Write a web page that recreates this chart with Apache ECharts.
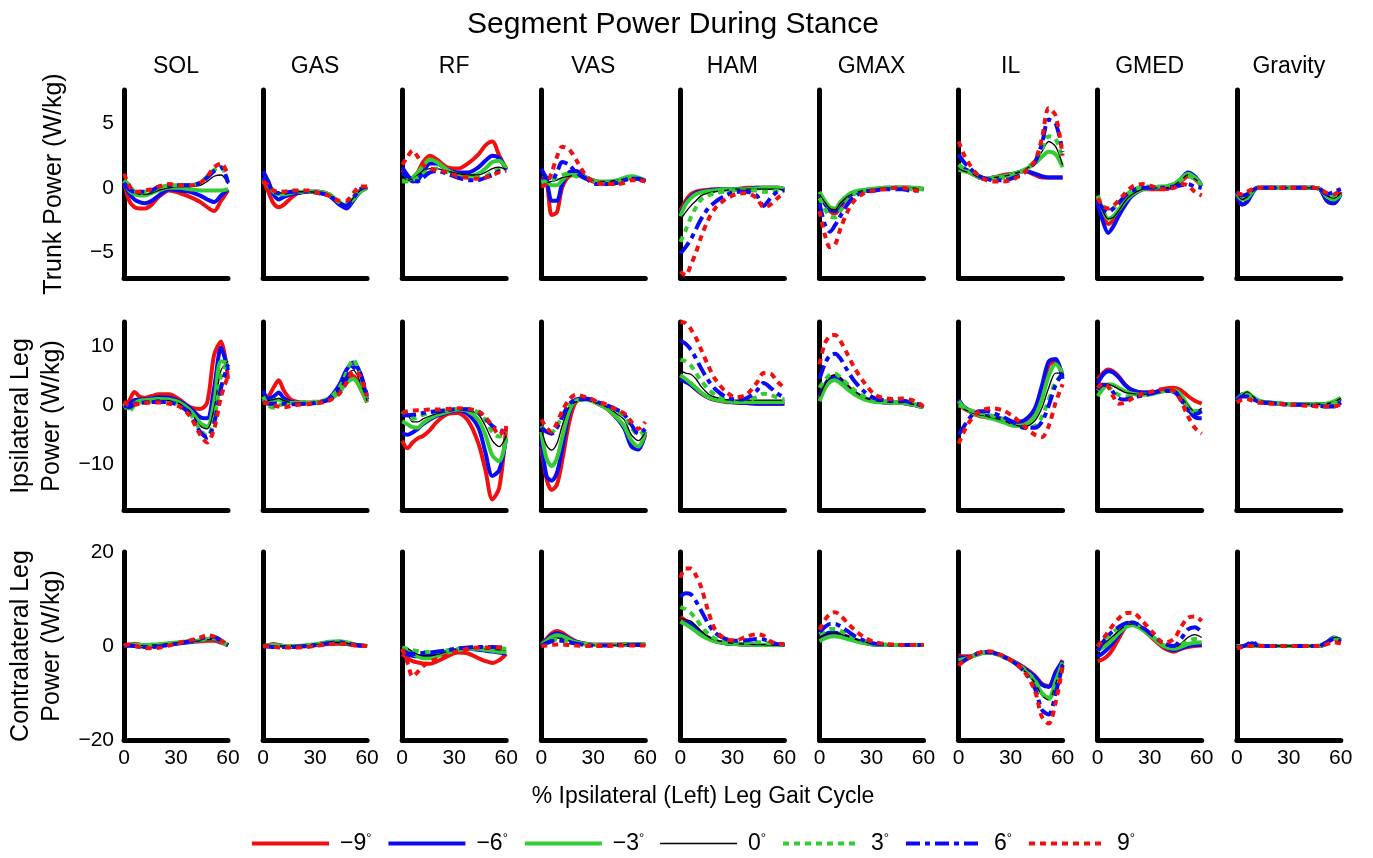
<!DOCTYPE html>
<html>
<head>
<meta charset="utf-8">
<script src="https://cdn.jsdelivr.net/npm/echarts@6/dist/echarts.min.js"></script>
<style>
  html, body { margin: 0; background: #fff; }
  #chart { width: 1373px; height: 858px; }
</style>
</head>
<body>
<div id="chart"></div>
<script>
// sample points along stance (% of gait cycle)
const gaitPct = [0, 3, 6, 9, 12, 16, 20, 26, 32, 38, 44, 48, 52, 56, 60];
const muscles = ['SOL', 'GAS', 'RF', 'VAS', 'HAM', 'GMAX', 'IL', 'GMED', 'Gravity'];
const angles = ['\u22129', '\u22126', '\u22123', '0', '3', '6', '9'];
const rowTitles = ['Trunk Power (W/kg)', 'Ipsilateral Leg\nPower (W/kg)', 'Contralateral Leg\nPower (W/kg)'];
const yTicks = [[-5, 0, 5], [-10, 0, 10], [-20, 0, 20]];
const xTicks = [0, 30, 60];

// each panel: one row per angle, order -9, -6, -3, 0, 3, 6, 9
const trunkSOL = [
  [0.5, -1.0, -1.5, -1.6, -1.6, -1.3, -0.7, -0.2, -0.4, -0.7, -1.1, -1.5, -1.8, -1.0, -0.2],
  [0.3, -0.4, -0.9, -1.1, -1.2, -1.0, -0.6, -0.1, -0.2, -0.3, -0.6, -0.9, -1.1, -0.6, -0.1],
  [0.5, -0.2, -0.5, -0.6, -0.6, -0.4, -0.2, 0.0, 0.0, -0.1, -0.2, -0.2, -0.2, -0.2, -0.1],
  [0.8, 0.3, -0.3, -0.5, -0.5, -0.4, -0.2, 0.0, 0.1, 0.1, 0.2, 0.5, 0.9, 1.0, 0.3],
  [0.6, 0.2, -0.3, -0.4, -0.3, -0.2, 0.0, 0.2, 0.2, 0.2, 0.4, 0.9, 1.4, 1.6, 0.4],
  [0.4, -0.1, -0.3, -0.3, -0.3, -0.2, 0.1, 0.2, 0.2, 0.2, 0.4, 0.8, 1.3, 1.6, 0.4],
  [1.1, 0.2, -0.3, -0.3, -0.2, -0.1, 0.1, 0.3, 0.2, 0.2, 0.4, 0.9, 1.6, 1.9, 1.0]
];
const trunkGAS = [
  [0.6, -0.3, -1.2, -1.5, -1.3, -0.8, -0.4, -0.3, -0.3, -0.5, -1.2, -1.5, -0.9, -0.2, 0.1],
  [1.3, 0.5, -0.5, -0.9, -0.7, -0.5, -0.4, -0.3, -0.3, -0.6, -1.3, -1.6, -1.0, -0.3, 0.0],
  [0.8, 0.2, -0.3, -0.5, -0.5, -0.4, -0.3, -0.3, -0.3, -0.5, -1.1, -1.4, -0.9, -0.3, 0.0],
  [0.6, 0.3, -0.2, -0.4, -0.4, -0.4, -0.3, -0.3, -0.4, -0.6, -1.1, -1.3, -0.8, -0.2, 0.0],
  [0.5, 0.2, -0.2, -0.3, -0.3, -0.3, -0.3, -0.3, -0.4, -0.6, -1.1, -1.2, -0.7, -0.1, 0.1],
  [0.8, 0.3, -0.3, -0.4, -0.4, -0.3, -0.3, -0.3, -0.4, -0.6, -1.2, -1.4, -0.8, -0.1, 0.1],
  [0.5, 0.2, -0.2, -0.3, -0.3, -0.2, -0.2, -0.2, -0.4, -0.6, -1.0, -1.0, -0.4, 0.1, 0.1]
];
const trunkRF = [
  [1.4, 0.9, 0.6, 1.2, 2.0, 2.5, 2.2, 1.6, 1.5, 1.9, 2.6, 3.3, 3.6, 2.5, 1.5],
  [1.2, 0.8, 0.5, 0.6, 1.2, 1.9, 1.9, 1.4, 1.2, 1.2, 1.6, 2.1, 2.5, 2.3, 1.4],
  [0.6, 0.6, 0.8, 1.2, 1.7, 2.2, 2.0, 1.4, 1.0, 0.9, 1.1, 1.5, 2.0, 2.1, 1.5],
  [0.9, 0.6, 0.7, 1.0, 1.3, 1.5, 1.5, 1.3, 1.1, 1.0, 1.0, 1.2, 1.5, 1.6, 1.4],
  [0.5, 0.5, 0.6, 0.8, 1.1, 1.4, 1.5, 1.2, 0.9, 0.8, 0.8, 0.9, 1.2, 1.4, 1.4],
  [1.6, 1.0, 0.6, 0.5, 0.8, 1.2, 1.3, 1.1, 0.8, 0.6, 0.6, 0.8, 1.0, 1.3, 1.4],
  [1.8, 2.4, 2.9, 2.4, 1.8, 1.5, 1.4, 1.2, 0.9, 0.8, 0.7, 0.8, 1.0, 1.2, 1.3]
];
const trunkVAS = [
  [0.8, 0.5, -2.1, -1.9, 0.0, 0.9, 1.0, 0.7, 0.4, 0.3, 0.4, 0.6, 0.8, 0.7, 0.5],
  [0.7, 0.5, -1.0, -1.0, 0.3, 1.2, 1.3, 0.8, 0.5, 0.4, 0.5, 0.7, 0.8, 0.7, 0.5],
  [0.5, 0.5, 0.2, 0.2, 0.6, 1.0, 1.0, 0.8, 0.5, 0.5, 0.6, 0.8, 0.9, 0.8, 0.6],
  [0.3, 0.4, 0.5, 0.6, 0.8, 0.9, 1.0, 0.8, 0.5, 0.5, 0.6, 0.7, 0.8, 0.7, 0.5],
  [0.4, 0.5, 0.6, 0.8, 1.0, 1.1, 0.9, 0.7, 0.5, 0.4, 0.5, 0.6, 0.8, 0.7, 0.6],
  [1.5, 0.8, 0.6, 1.2, 2.0, 1.8, 1.2, 0.7, 0.3, 0.3, 0.4, 0.6, 0.7, 0.7, 0.5],
  [0.1, 0.3, 1.2, 2.4, 3.2, 3.0, 2.2, 0.9, 0.4, 0.3, 0.3, 0.4, 0.6, 0.6, 0.5]
];
const trunkHAM = [
  [-1.8, -1.0, -0.5, -0.3, -0.2, -0.15, -0.1, -0.1, -0.1, 0, 0, 0, 0, 0, -0.1],
  [-2.0, -1.2, -0.7, -0.4, -0.3, -0.2, -0.15, -0.1, -0.1, -0.1, 0, 0, 0, 0, -0.1],
  [-2.2, -1.3, -0.8, -0.5, -0.35, -0.25, -0.2, -0.1, -0.1, -0.1, -0.05, 0, 0, 0, -0.1],
  [-2.5, -1.9, -1.4, -1.0, -0.6, -0.4, -0.3, -0.2, -0.1, -0.1, -0.1, -0.1, -0.1, -0.1, -0.2],
  [-4.2, -3.3, -2.3, -1.5, -0.9, -0.6, -0.4, -0.3, -0.2, -0.2, -0.2, -0.3, -0.3, -0.2, -0.3],
  [-5.1, -4.6, -4.0, -3.2, -2.4, -1.6, -1.1, -0.6, -0.3, -0.3, -0.6, -1.4, -0.8, -0.3, -0.2],
  [-6.5, -6.8, -6.0, -5.0, -3.8, -2.5, -1.6, -0.9, -0.5, -0.4, -0.8, -1.5, -1.3, -0.8, -0.4]
];
const trunkGMAX = [
  [-0.6, -1.2, -1.8, -2.0, -1.5, -0.8, -0.4, -0.2, -0.1, -0.05, 0, 0, 0, -0.05, -0.1],
  [-0.5, -1.2, -1.7, -1.8, -1.3, -0.7, -0.4, -0.2, -0.1, 0, 0, 0, 0, -0.05, -0.1],
  [-0.3, -1.0, -1.5, -1.6, -1.1, -0.6, -0.3, -0.15, -0.05, 0, 0, 0, 0, 0, -0.05],
  [-0.5, -1.1, -1.6, -1.7, -1.2, -0.7, -0.4, -0.2, -0.1, 0, 0, 0, 0, -0.05, -0.1],
  [-0.8, -1.6, -2.2, -2.3, -1.8, -1.0, -0.5, -0.2, -0.1, 0, 0, 0, -0.1, -0.1, -0.1],
  [-1.2, -2.8, -3.4, -2.9, -2.2, -1.3, -0.7, -0.3, -0.2, -0.1, -0.1, -0.1, -0.2, -0.2, -0.2],
  [-1.8, -3.6, -4.6, -4.4, -3.2, -1.9, -1.0, -0.4, -0.2, -0.1, 0, 0, -0.1, -0.2, -0.2]
];
const trunkIL = [
  [1.5, 1.4, 1.2, 1.0, 0.8, 0.7, 0.8, 1.0, 1.1, 1.3, 1.0, 0.8, 0.8, 0.8, 0.8],
  [1.7, 1.5, 1.3, 1.1, 0.8, 0.7, 0.8, 0.9, 1.1, 1.3, 1.1, 0.9, 0.8, 0.8, 0.8],
  [1.4, 1.3, 1.2, 1.0, 0.8, 0.7, 0.8, 0.9, 1.1, 1.4, 1.9, 2.4, 2.8, 2.6, 1.6],
  [1.5, 1.3, 1.2, 1.0, 0.8, 0.7, 0.8, 0.9, 1.1, 1.4, 2.0, 2.8, 3.6, 3.2, 1.8],
  [1.8, 1.5, 1.3, 1.1, 0.9, 0.7, 0.7, 0.8, 1.0, 1.4, 2.1, 3.0, 4.0, 3.8, 2.2],
  [2.6, 2.0, 1.6, 1.2, 0.9, 0.7, 0.6, 0.6, 0.8, 1.2, 2.0, 3.4, 5.3, 5.0, 2.8],
  [3.6, 2.6, 1.9, 1.3, 0.9, 0.6, 0.5, 0.5, 0.7, 1.2, 2.1, 3.8, 6.2, 5.6, 2.5]
];
const trunkGMED = [
  [-1.0, -2.0, -2.8, -2.5, -1.9, -1.1, -0.5, -0.1, -0.1, -0.1, 0.1, 0.5, 0.9, 0.7, 0.1],
  [-1.2, -2.6, -3.5, -3.0, -2.2, -1.3, -0.6, -0.1, 0.0, 0.0, 0.2, 0.7, 1.2, 0.9, 0.2],
  [-0.7, -1.7, -2.4, -2.2, -1.7, -1.0, -0.5, -0.1, 0.0, 0.1, 0.3, 0.7, 1.1, 0.8, 0.2],
  [-0.8, -1.8, -2.4, -2.3, -1.8, -1.0, -0.5, -0.1, 0.0, 0.0, 0.2, 0.6, 1.0, 0.7, 0.2],
  [-0.6, -1.4, -1.8, -1.6, -1.2, -0.6, -0.2, 0.1, 0.1, 0.1, 0.3, 0.6, 0.9, 0.7, 0.2],
  [-1.0, -1.6, -1.9, -1.6, -1.2, -0.6, -0.2, 0.0, 0.0, 0.0, 0.1, 0.2, 0.3, 0.1, 0.0],
  [-0.8, -1.4, -1.6, -1.4, -1.0, -0.4, 0.1, 0.3, 0.1, -0.1, 0.0, 0.3, 0.2, -0.3, -0.6]
];
const trunkGravity = [
  [-0.5, -1.3, -1.0, -0.3, 0, 0, 0, 0, 0, 0, 0, -0.1, -1.0, -1.2, -0.3],
  [-0.5, -1.3, -1.1, -0.4, 0, 0, 0, 0, 0, 0, 0, -0.1, -1.0, -1.2, -0.5],
  [-0.4, -0.9, -0.8, -0.3, 0, 0, 0, 0, 0, 0, 0, -0.1, -0.7, -0.9, -0.5],
  [-0.4, -0.9, -0.7, -0.3, 0, 0, 0, 0, 0, 0, 0, -0.1, -0.6, -0.8, -0.4],
  [-0.3, -0.6, -0.5, -0.2, 0, 0, 0, 0, 0, 0, 0, -0.1, -0.5, -0.6, -0.3],
  [-0.3, -0.6, -0.5, -0.2, 0, 0, 0, 0, 0, 0, 0, -0.1, -0.5, -0.3, -0.1],
  [-0.4, -0.5, -0.3, -0.1, 0, 0, 0, 0, 0, 0, 0, -0.1, -0.4, -0.5, -0.1]
];

const ipsiSOL = [
  [0, 0.8, 2.3, 1.5, 1.3, 1.6, 1.9, 1.9, 1.0, -0.3, -0.6, 0.5, 8.6, 10.9, 4.5],
  [0, 0.2, 0.9, 1.0, 1.0, 1.2, 1.4, 1.3, 0.7, -0.4, -2.0, -2.2, 3.0, 9.8, 6.0],
  [0, -0.5, 0.3, 0.8, 0.9, 1.0, 1.1, 1.0, 0.5, -0.8, -3.0, -3.6, 0.5, 7.5, 7.2],
  [0, -0.4, 0.2, 0.6, 0.7, 0.8, 0.9, 0.8, 0.3, -1.0, -3.5, -4.0, -0.5, 6.0, 7.5],
  [0.3, -1.0, 0.0, 0.5, 0.6, 0.7, 0.7, 0.6, 0.1, -1.3, -4.2, -5.2, -2.5, 5.0, 7.5],
  [0, -0.3, 0.2, 0.4, 0.5, 0.6, 0.6, 0.5, 0.0, -1.5, -4.5, -5.5, -3.0, 3.0, 7.0],
  [0.7, 0.0, 0.1, 0.3, 0.4, 0.5, 0.5, 0.3, -0.2, -1.8, -5.0, -6.3, -4.0, 1.5, 5.0]
];
const ipsiGAS = [
  [1.0, 1.5, 3.0, 4.3, 2.5, 1.0, 0.6, 0.5, 0.6, 1.0, 2.5, 4.0, 5.0, 3.0, 0.5],
  [2.5, 1.2, 1.5, 2.2, 1.2, 0.6, 0.4, 0.4, 0.5, 1.2, 3.5, 6.0, 7.3, 5.5, 1.0],
  [1.0, 0.5, 0.8, 1.0, 0.6, 0.4, 0.4, 0.4, 0.5, 1.0, 2.2, 3.8, 4.5, 3.0, 0.6],
  [1.3, 0.8, 1.0, 1.2, 0.8, 0.5, 0.4, 0.4, 0.5, 1.2, 3.0, 5.0, 6.0, 4.0, 0.8],
  [1.5, 0.0, -0.4, 0.0, 0.2, 0.4, 0.5, 0.6, 0.7, 1.2, 3.0, 5.5, 7.8, 5.0, 1.0],
  [0.6, 0.3, 0.3, 0.4, 0.3, 0.2, 0.2, 0.3, 0.5, 1.0, 2.5, 4.5, 6.5, 5.5, 1.5],
  [0.5, 0.3, 0.0, -0.2, -0.3, -0.1, 0.1, 0.2, 0.4, 0.8, 2.0, 3.8, 5.8, 5.0, 1.5]
];
const ipsiRF = [
  [-6.0, -7.3, -6.3, -5.6, -5.2, -4.2, -2.8, -1.5, -1.3, -2.6, -6.5, -11.0, -16.0, -14.0, -3.5],
  [-4.7, -5.0, -4.6, -4.0, -3.2, -2.4, -1.8, -1.2, -0.8, -1.5, -3.8, -8.0, -12.0, -11.0, -5.5],
  [-2.7, -3.2, -3.7, -3.8, -3.0, -2.2, -1.6, -1.1, -0.7, -1.0, -2.5, -5.0, -8.5, -9.5, -5.5],
  [-0.7, -1.3, -2.8, -2.8, -2.3, -1.8, -1.4, -1.0, -0.7, -0.8, -1.6, -3.5, -6.0, -7.0, -5.2],
  [-1.0, -1.8, -2.3, -2.0, -1.6, -1.2, -1.0, -0.8, -0.6, -0.6, -1.2, -2.5, -4.5, -5.3, -4.5],
  [-1.5, -1.7, -1.6, -1.5, -1.3, -1.1, -1.0, -0.8, -0.6, -0.7, -1.2, -2.2, -3.5, -4.2, -4.5],
  [-1.3, -1.0, -0.9, -0.8, -0.8, -0.7, -0.7, -0.6, -0.5, -0.6, -1.0, -2.0, -3.5, -5.0, -3.5]
];
const ipsiVAS = [
  [-7.0, -12.5, -14.4, -13.5, -9.5, -3.0, 0.6, 1.1, 0.4, -0.6, -2.3, -3.8, -6.5, -7.3, -5.0],
  [-5.5, -12.0, -12.8, -11.5, -7.5, -1.5, 1.0, 1.2, 0.5, -0.5, -2.3, -4.0, -7.0, -7.5, -4.5],
  [-4.5, -9.0, -10.3, -9.0, -5.5, -1.0, 0.8, 1.0, 0.4, -0.6, -2.2, -3.6, -6.0, -7.0, -4.5],
  [-4.0, -6.8, -7.6, -6.5, -3.5, -0.3, 0.6, 0.9, 0.4, -0.3, -1.5, -2.5, -5.0, -6.0, -4.5],
  [-3.5, -4.5, -4.6, -3.5, -1.8, 0.0, 0.8, 1.0, 0.5, -0.1, -1.0, -2.0, -3.8, -5.0, -4.2],
  [-3.8, -4.5, -4.8, -3.8, -2.0, 0.2, 1.0, 1.1, 0.6, 0.0, -0.8, -1.6, -3.3, -4.8, -4.0],
  [-2.4, -3.8, -4.5, -3.0, -1.0, 1.0, 1.8, 1.4, 0.7, 0.1, -0.8, -1.4, -2.8, -4.0, -2.8]
];
const ipsiHAM = [
  [5.0, 4.3, 3.5, 2.7, 2.0, 1.3, 0.9, 0.6, 0.5, 0.4, 0.3, 0.3, 0.3, 0.3, 0.3],
  [4.5, 4.0, 3.5, 2.8, 2.1, 1.4, 1.0, 0.7, 0.5, 0.4, 0.3, 0.3, 0.3, 0.3, 0.3],
  [5.2, 4.5, 3.8, 3.0, 2.2, 1.4, 1.0, 0.7, 0.6, 0.6, 0.6, 0.6, 0.6, 0.6, 0.6],
  [6.0, 5.5, 5.3, 4.5, 3.2, 2.0, 1.4, 1.0, 0.9, 0.9, 0.9, 0.9, 0.9, 0.9, 0.9],
  [7.8, 7.5, 6.8, 5.5, 4.2, 2.8, 1.8, 1.0, 0.7, 0.8, 1.4, 2.0, 1.8, 1.3, 1.0],
  [11.0, 10.5, 9.5, 8.0, 6.3, 4.3, 2.8, 1.5, 1.0, 1.2, 2.5, 3.8, 3.0, 2.0, 1.3],
  [14.2, 14.0, 13.0, 11.5, 9.5, 6.8, 4.5, 2.4, 1.4, 1.8, 3.8, 5.5, 5.4, 4.0, 3.0]
];
const ipsiGMAX = [
  [1.3, 3.3, 4.6, 5.0, 4.5, 3.3, 2.2, 1.2, 0.7, 0.5, 0.4, 0.4, 0.2, 0.0, -0.3],
  [1.5, 3.4, 4.6, 4.9, 4.4, 3.2, 2.2, 1.2, 0.7, 0.5, 0.4, 0.4, 0.2, 0.0, -0.3],
  [0.7, 2.8, 4.0, 4.3, 3.8, 2.8, 1.9, 1.0, 0.6, 0.5, 0.4, 0.4, 0.2, 0.0, -0.3],
  [1.5, 3.5, 4.8, 5.2, 4.7, 3.5, 2.4, 1.3, 0.8, 0.6, 0.5, 0.5, 0.3, 0.1, -0.2],
  [3.0, 4.3, 5.2, 5.4, 4.8, 3.7, 2.6, 1.5, 0.9, 0.7, 0.6, 0.6, 0.4, 0.2, -0.2],
  [4.5, 7.0, 8.5, 8.8, 8.0, 6.0, 4.2, 2.3, 1.2, 0.9, 0.8, 0.8, 0.6, 0.3, -0.1],
  [7.0, 10.5, 11.8, 12.0, 11.0, 8.8, 6.5, 3.8, 1.8, 1.2, 1.1, 1.2, 1.0, 0.6, -0.2]
];
const ipsiIL = [
  [0.5, -0.5, -1.0, -1.5, -1.8, -2.0, -2.2, -2.6, -3.0, -2.8, -1.0, 2.5, 6.8, 7.5, 5.0],
  [1.0, -0.2, -0.8, -1.2, -1.5, -1.8, -2.0, -2.3, -2.8, -2.5, -0.5, 3.3, 7.5, 7.9, 4.5],
  [0.7, -0.3, -0.9, -1.4, -1.7, -2.0, -2.3, -2.9, -3.5, -3.3, -1.8, 1.0, 5.0, 7.0, 5.5],
  [0.3, -0.6, -1.0, -1.4, -1.6, -1.8, -2.1, -2.6, -3.3, -3.6, -2.6, -0.5, 3.0, 5.5, 5.5],
  [0.0, -0.3, -0.7, -1.0, -1.2, -1.5, -1.8, -2.4, -3.2, -3.8, -3.5, -2.0, 1.0, 4.0, 5.3],
  [-5.0, -3.6, -2.3, -1.3, -1.0, -1.0, -1.3, -2.0, -3.0, -3.8, -3.8, -2.8, 0.0, 3.5, 5.5],
  [-6.5, -4.5, -2.9, -1.8, -1.0, -0.6, -0.5, -0.9, -2.0, -3.6, -5.0, -5.4, -3.5, 0.5, 3.6]
];
const ipsiGMED = [
  [4.5, 5.5, 6.1, 5.8, 5.0, 3.5, 2.6, 2.2, 2.2, 2.8, 3.0, 2.6, 1.6, 0.8, 0.3],
  [3.8, 5.2, 5.8, 5.6, 4.8, 3.4, 2.6, 2.2, 2.2, 2.6, 2.3, 1.2, -0.5, -2.0, -2.2],
  [1.6, 2.8, 3.6, 3.5, 3.0, 2.4, 2.0, 1.8, 2.0, 2.5, 2.6, 1.8, 0.0, -1.2, -0.8],
  [2.8, 3.4, 3.6, 3.3, 2.8, 2.2, 2.0, 1.9, 2.0, 2.5, 2.5, 1.5, 0.0, -1.0, -0.5],
  [2.5, 3.3, 3.2, 2.4, 1.8, 1.5, 1.6, 1.8, 2.0, 2.4, 2.5, 1.3, -0.5, -1.0, -0.8],
  [2.7, 3.5, 3.4, 2.2, 1.2, 1.0, 1.3, 1.7, 2.1, 2.5, 2.4, 1.0, -0.8, -1.5, -1.0],
  [3.0, 3.8, 3.2, 1.5, 0.3, 0.5, 1.2, 2.0, 2.4, 2.8, 2.5, 0.8, -1.8, -3.8, -4.8]
];
const ipsiGravity = [
  [1.2, 1.8, 1.9, 1.3, 0.8, 0.5, 0.4, 0.3, 0.2, 0.2, 0.2, 0.2, 0.3, 0.6, 1.2],
  [1.2, 1.9, 2.0, 1.4, 0.8, 0.5, 0.4, 0.3, 0.2, 0.2, 0.2, 0.2, 0.2, 0.5, 1.0],
  [1.0, 1.8, 2.2, 1.5, 0.9, 0.6, 0.5, 0.3, 0.2, 0.2, 0.2, 0.2, 0.3, 0.7, 1.3],
  [0.8, 1.7, 2.3, 1.6, 1.0, 0.6, 0.5, 0.3, 0.2, 0.2, 0.2, 0.2, 0.3, 0.6, 1.2],
  [0.6, 1.4, 1.8, 1.3, 0.8, 0.6, 0.5, 0.3, 0.2, 0.2, 0.2, 0.1, 0.1, 0.4, 0.9],
  [0.7, 1.5, 1.5, 1.1, 0.7, 0.5, 0.4, 0.2, 0.1, 0.1, 0.0, -0.1, -0.2, -0.2, 0.5],
  [0.5, 1.0, 1.1, 0.8, 0.5, 0.4, 0.3, 0.2, 0.1, 0.0, -0.1, -0.2, -0.2, -0.2, 0.2]
];

const contraSOL = [
  [0, 0.3, 0.5, 0.3, 0.1, 0.1, 0.2, 0.4, 0.6, 0.8, 1.0, 1.1, 1.1, 0.7, 0.1],
  [0, 0.1, 0.0, -0.1, -0.1, -0.1, 0.0, 0.3, 0.6, 0.9, 1.2, 1.5, 1.5, 1.0, 0.2],
  [0, 0.2, 0.3, 0.2, 0.2, 0.3, 0.4, 0.6, 0.8, 1.0, 1.2, 1.5, 1.6, 1.0, 0.2],
  [0, 0.1, 0.1, 0.1, 0.1, 0.2, 0.3, 0.5, 0.7, 0.9, 1.1, 1.3, 1.4, 0.9, 0.2],
  [0, 0.2, 0.2, 0.1, 0.1, 0.2, 0.3, 0.5, 0.8, 1.0, 1.3, 1.6, 1.7, 1.0, 0.2],
  [0, 0.1, 0.0, -0.1, -0.2, -0.2, -0.1, 0.2, 0.6, 1.0, 1.5, 1.9, 1.9, 1.2, 0.2],
  [0.2, 0.3, 0.1, -0.2, -0.4, -0.5, -0.4, 0.1, 0.7, 1.2, 1.8, 2.3, 2.0, 1.2, 0.2]
];
const contraGAS = [
  [0, 0.2, 0.4, 0.2, 0.0, -0.1, -0.1, 0.0, 0.2, 0.4, 0.5, 0.4, 0.2, 0.1, 0.0],
  [-0.2, 0.0, 0.1, 0.1, 0.0, -0.1, -0.1, 0.1, 0.4, 0.8, 0.9, 0.7, 0.3, 0.1, 0.0],
  [0, 0.1, 0.2, 0.1, 0.0, 0.0, 0.0, 0.2, 0.5, 0.9, 1.0, 0.8, 0.4, 0.1, 0.0],
  [0, 0.1, 0.1, 0.0, 0.0, 0.0, 0.0, 0.2, 0.4, 0.7, 0.8, 0.6, 0.3, 0.1, 0.0],
  [0, 0.0, -0.1, -0.1, -0.1, -0.1, -0.1, 0.1, 0.3, 0.5, 0.6, 0.5, 0.3, 0.1, 0.0],
  [0, -0.1, -0.2, -0.2, -0.2, -0.2, -0.1, 0.0, 0.3, 0.6, 0.8, 0.6, 0.3, 0.1, 0.0],
  [0, -0.1, -0.2, -0.3, -0.3, -0.3, -0.3, -0.2, 0.1, 0.4, 0.5, 0.4, 0.2, 0.0, 0.0]
];
const contraRF = [
  [-1.7, -2.6, -3.2, -3.5, -3.7, -3.8, -3.3, -2.2, -1.4, -1.6, -2.6, -3.2, -3.6, -3.0, -1.7],
  [-1.0, -1.8, -2.1, -2.2, -2.2, -2.0, -1.7, -1.2, -0.8, -0.6, -0.8, -1.0, -1.2, -1.4, -1.6],
  [-0.5, -1.0, -1.6, -2.2, -2.6, -2.6, -2.2, -1.4, -0.9, -0.6, -0.6, -0.8, -1.0, -1.2, -1.3],
  [-0.2, -0.5, -1.2, -1.8, -2.1, -2.1, -1.8, -1.2, -0.7, -0.5, -0.5, -0.6, -0.7, -0.8, -0.9],
  [-0.3, -0.6, -0.9, -1.1, -1.3, -1.3, -1.2, -0.9, -0.6, -0.4, -0.4, -0.4, -0.5, -0.5, -0.6],
  [-0.9, -1.5, -1.7, -1.6, -1.5, -1.4, -1.2, -0.9, -0.5, -0.3, -0.2, -0.2, -0.2, -0.3, -0.4],
  [-0.6, -3.5, -6.5, -5.5, -4.3, -3.3, -2.8, -2.0, -1.1, -0.6, -0.3, -0.3, -0.3, -0.3, -0.3]
];
const contraVAS = [
  [0.3, 1.5, 2.7, 3.2, 2.8, 1.8, 1.0, 0.5, 0.3, 0.3, 0.3, 0.3, 0.3, 0.3, 0.3],
  [0.3, 1.3, 2.3, 2.7, 2.4, 1.6, 0.9, 0.4, 0.2, 0.2, 0.2, 0.3, 0.3, 0.3, 0.3],
  [0.3, 1.1, 1.9, 2.3, 2.1, 1.4, 0.8, 0.4, 0.2, 0.2, 0.2, 0.3, 0.3, 0.3, 0.4],
  [0.2, 0.8, 1.4, 1.7, 1.6, 1.1, 0.7, 0.3, 0.2, 0.2, 0.2, 0.3, 0.3, 0.3, 0.3],
  [0.2, 0.7, 1.2, 1.4, 1.3, 1.0, 0.6, 0.3, 0.2, 0.2, 0.2, 0.3, 0.3, 0.3, 0.3],
  [0.1, 0.6, 1.0, 1.2, 1.1, 0.8, 0.5, 0.2, 0.1, 0.1, 0.2, 0.2, 0.2, 0.2, 0.2],
  [0.0, 0.1, 0.2, 0.3, 0.3, 0.2, 0.1, 0.0, 0.0, 0.0, 0.1, 0.1, 0.1, 0.1, 0.1]
];
const contraHAM = [
  [6.2, 5.4, 4.4, 3.4, 2.5, 1.6, 1.0, 0.6, 0.4, 0.3, 0.2, 0.2, 0.2, 0.2, 0.2],
  [4.8, 5.0, 4.7, 3.8, 2.8, 1.8, 1.1, 0.6, 0.4, 0.3, 0.3, 0.2, 0.2, 0.2, 0.2],
  [5.2, 4.6, 3.9, 3.1, 2.3, 1.5, 1.0, 0.6, 0.4, 0.3, 0.2, 0.2, 0.2, 0.2, 0.2],
  [6.0, 5.6, 5.3, 4.3, 3.2, 2.0, 1.3, 0.8, 0.5, 0.4, 0.3, 0.3, 0.2, 0.2, 0.2],
  [8.3, 7.8, 7.0, 5.8, 4.2, 2.6, 1.6, 0.9, 0.7, 0.7, 0.8, 0.8, 0.5, 0.3, 0.2],
  [10.5, 11.2, 11.0, 9.5, 7.5, 4.8, 2.8, 1.5, 1.1, 1.2, 1.5, 1.4, 0.8, 0.4, 0.3],
  [14.5, 16.5, 16.5, 15.0, 12.5, 7.5, 3.5, 1.5, 1.2, 2.0, 2.5, 2.2, 1.0, 0.5, 0.4]
];
const contraGMAX = [
  [1.8, 2.3, 2.5, 2.5, 2.3, 1.8, 1.3, 0.7, 0.3, 0.2, 0.2, 0.2, 0.2, 0.2, 0.2],
  [2.0, 2.5, 2.8, 2.8, 2.5, 2.0, 1.4, 0.7, 0.3, 0.2, 0.2, 0.2, 0.2, 0.2, 0.2],
  [1.0, 1.6, 2.0, 2.1, 1.9, 1.5, 1.1, 0.6, 0.3, 0.2, 0.2, 0.2, 0.2, 0.2, 0.2],
  [1.8, 2.4, 2.7, 2.8, 2.6, 2.1, 1.5, 0.8, 0.4, 0.2, 0.2, 0.2, 0.2, 0.2, 0.2],
  [2.5, 3.1, 3.6, 3.6, 3.2, 2.5, 1.7, 0.9, 0.4, 0.3, 0.2, 0.2, 0.2, 0.2, 0.2],
  [3.0, 4.0, 4.7, 4.7, 4.2, 3.2, 2.2, 1.1, 0.5, 0.3, 0.2, 0.2, 0.2, 0.2, 0.2],
  [3.5, 5.5, 6.8, 7.2, 6.5, 5.0, 3.5, 1.8, 0.8, 0.4, 0.3, 0.2, 0.2, 0.2, 0.2]
];
const contraIL = [
  [-2.0, -2.2, -2.2, -2.0, -1.6, -1.4, -1.5, -2.2, -3.3, -4.6, -6.3, -8.0, -8.5, -6.0, -3.0],
  [-2.4, -2.5, -2.4, -2.0, -1.6, -1.4, -1.5, -2.3, -3.4, -4.8, -6.5, -8.2, -8.7, -5.5, -3.2],
  [-3.0, -2.8, -2.5, -2.1, -1.7, -1.4, -1.5, -2.3, -3.5, -5.2, -7.5, -10.0, -11.0, -7.5, -3.5],
  [-2.8, -2.7, -2.4, -2.0, -1.6, -1.4, -1.5, -2.4, -3.6, -5.3, -7.8, -10.5, -11.5, -8.0, -3.8],
  [-3.0, -2.8, -2.5, -2.0, -1.6, -1.4, -1.4, -2.2, -3.4, -5.0, -7.3, -10.0, -11.3, -8.5, -4.2],
  [-3.8, -3.2, -2.5, -1.9, -1.5, -1.3, -1.4, -2.3, -3.5, -5.5, -9.0, -13.5, -14.6, -10.0, -4.0],
  [-4.2, -3.2, -2.5, -1.8, -1.4, -1.1, -1.2, -2.2, -3.5, -5.5, -9.5, -15.0, -16.5, -12.0, -4.5]
];
const contraGMED = [
  [-3.2, -2.8, -2.0, -0.5, 1.5, 4.0, 5.0, 3.5, 1.5, -0.4, -1.2, -0.6, -0.2, 0.0, 0.1],
  [-2.2, -1.5, -0.5, 0.8, 2.3, 4.2, 5.0, 3.7, 1.8, 0.0, -0.9, -0.5, 0.0, 0.2, 0.2],
  [-1.0, -0.3, 0.5, 1.5, 2.7, 4.0, 4.4, 3.4, 1.7, 0.0, -0.6, -0.2, 0.4, 0.7, 0.8],
  [-0.5, 0.3, 1.2, 2.2, 3.2, 4.3, 4.7, 3.6, 1.9, 0.3, -0.3, 0.5, 1.8, 2.4, 1.8],
  [0.0, 1.0, 2.0, 3.0, 3.8, 4.5, 4.6, 3.5, 1.9, 0.2, -0.5, 0.2, 1.0, 1.5, 1.3],
  [-1.0, 0.8, 2.2, 3.2, 4.0, 4.8, 5.0, 3.9, 2.2, 0.6, 0.0, 1.5, 3.5, 4.0, 3.0],
  [-0.2, 1.5, 3.0, 4.5, 5.8, 7.0, 7.1, 5.2, 2.8, 0.7, 1.5, 4.0, 6.0, 6.3, 5.3]
];
const contraGravity = [
  [0, 0, 0, 0, 0, 0, 0, 0, 0, 0, 0, 0, 0.6, 1.6, 1.2],
  [0, 0, 0.2, 0.6, 0.1, 0, 0, 0, 0, 0, 0, 0, 0.8, 1.8, 1.2],
  [0, 0, 0, 0, 0, 0, 0, 0, 0, 0, 0, 0, 0.7, 1.7, 1.3],
  [0, 0, 0, 0, 0, 0, 0, 0, 0, 0, 0, 0.1, 0.8, 1.8, 1.6],
  [0, 0, 0, 0, 0, 0, 0, 0, 0, 0, 0, 0.1, 0.7, 1.3, 1.2],
  [-0.3, -0.1, 0.3, 1.0, 0.1, 0, 0, 0, 0, 0, 0, 0.1, 0.8, 1.5, 0.9],
  [-0.5, -0.2, 0, 0, 0, 0, 0, 0, 0, 0, 0, 0, 0.4, 0.8, 0.5]
];

const panels = [
  [trunkSOL, trunkGAS, trunkRF, trunkVAS, trunkHAM, trunkGMAX, trunkIL, trunkGMED, trunkGravity],
  [ipsiSOL, ipsiGAS, ipsiRF, ipsiVAS, ipsiHAM, ipsiGMAX, ipsiIL, ipsiGMED, ipsiGravity],
  [contraSOL, contraGAS, contraRF, contraVAS, contraHAM, contraGMAX, contraIL, contraGMED, contraGravity]
];

// layout
const FONT = "'Liberation Sans', Arial, Helvetica, sans-serif";
const RED = '#f01010', BLUE = '#0a0af5', GREEN = '#33cc33';
const lineStyles = [
  { color: RED, width: 4, type: 'solid' },
  { color: BLUE, width: 4, type: 'solid' },
  { color: GREEN, width: 4, type: 'solid' },
  { color: '#000', width: 1.3, type: 'solid' },
  { color: GREEN, width: 4, type: [6, 5] },
  { color: BLUE, width: 4, type: [14, 5, 5, 5] },
  { color: RED, width: 4, type: [6, 5] }
];
const yRange = [[-7, 7.6], [-17.8, 14.2], [-20, 20]];
const rowTop = [90, 322, 552];
const panelH = 188;
const panelW = 104;
const colLeft = c => 124 + 139.1 * c;
const minus = v => (v < 0 ? '\u2212' + Math.abs(v) : String(v));

const grids = [], xAxes = [], yAxes = [], series = [];
panels.forEach((row, r) => {
  row.forEach((panel, c) => {
    const idx = r * muscles.length + c;
    grids.push({ left: colLeft(c), top: rowTop[r], width: panelW, height: panelH, outerBoundsMode: 'none' });
    xAxes.push({
      gridIndex: idx, type: 'value', min: 0, max: 60, interval: 30,
      axisLine: { show: true, onZero: false, lineStyle: { color: '#000', width: 5 } },
      axisTick: { show: false }, splitLine: { show: false },
      axisLabel: { show: r === 2, customValues: xTicks, color: '#000', fontSize: 21, fontFamily: FONT, margin: 8 }
    });
    yAxes.push({
      gridIndex: idx, type: 'value', min: yRange[r][0], max: yRange[r][1],
      axisLine: { show: true, onZero: false, lineStyle: { color: '#000', width: 5 } },
      axisTick: { show: false }, splitLine: { show: false },
      axisLabel: { show: c === 0, customValues: yTicks[r], formatter: minus, color: '#000', fontSize: 21, fontFamily: FONT, margin: 10 }
    });
    panel.forEach((vals, k) => {
      series.push({
        type: 'line', name: angles[k], xAxisIndex: idx, yAxisIndex: idx,
        data: gaitPct.map((x, i) => [x, vals[i]]),
        symbol: 'none', smooth: 0.3, lineStyle: lineStyles[k],
        itemStyle: { color: lineStyles[k].color },
        emphasis: { disabled: true }, silent: true
      });
    });
  });
});

const texts = [
  { type: 'text', x: 673, y: 25, style: { text: 'Segment Power During Stance', fontSize: 30, fontFamily: FONT, fill: '#000', align: 'center', verticalAlign: 'middle' } },
  { type: 'text', x: 703, y: 797, style: { text: '% Ipsilateral (Left) Leg Gait Cycle', fontSize: 23, fontFamily: FONT, fill: '#000', align: 'center', verticalAlign: 'middle' } }
];
muscles.forEach((m, c) => {
  texts.push({ type: 'text', x: colLeft(c) + panelW / 2, y: 67, style: { text: m, fontSize: 23, fontFamily: FONT, fill: '#000', align: 'center', verticalAlign: 'middle' } });
});
rowTitles.forEach((t, r) => {
  texts.push({
    type: 'text', x: r === 0 ? 54 : 37, y: rowTop[r] + panelH / 2, rotation: Math.PI / 2,
    style: { text: t, fontSize: 25, lineHeight: 31, fontFamily: FONT, fill: '#000', align: 'center', verticalAlign: 'middle' }
  });
});

const chart = echarts.init(document.getElementById('chart'), null, { renderer: 'canvas' });
chart.setOption({
  animation: false,
  backgroundColor: '#fff',
  grid: grids,
  xAxis: xAxes,
  yAxis: yAxes,
  legend: {
    left: 250, top: 832, padding: 0, itemWidth: 77, itemHeight: 14, itemGap: 15, selectedMode: false,
    itemStyle: { opacity: 0, borderWidth: 0 },
    data: angles.map((a, k) => ({ name: a, lineStyle: { width: k === 3 ? 1.5 : 4 } })),
    formatter: name => '{v|' + name + '}{d|\u00b0}',
    textStyle: {
      color: '#000', fontFamily: FONT,
      rich: {
        v: { fontSize: 23, fontFamily: FONT, color: '#000', padding: [0, 0, 0, 6] },
        d: { fontSize: 13, fontFamily: FONT, color: '#000', verticalAlign: 'top' }
      }
    }
  },
  graphic: texts,
  series: series
});
</script>
</body>
</html>
